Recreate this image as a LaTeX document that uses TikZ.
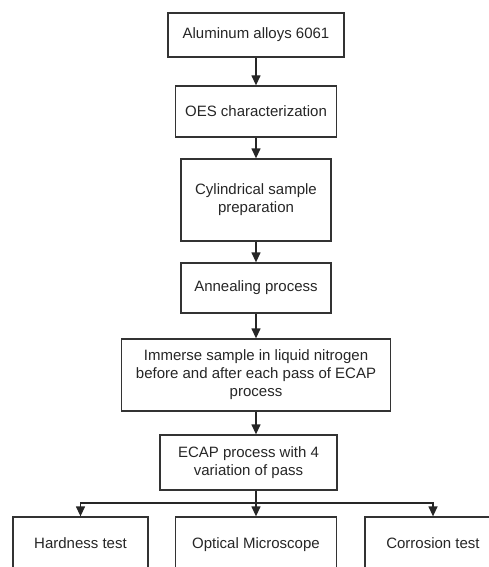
\documentclass[tikz,border=0pt]{standalone}
\usepackage{fontspec}
\setmainfont{Liberation Sans}
\usetikzlibrary{arrows.meta}
\begin{document}
\begin{tikzpicture}[
            x=1pt, y=-1pt,
            stepbox/.style={rectangle, draw=black!80, line width=1.3pt, align=center, inner sep=0pt,
              text=black!85, font=\fontsize{15}{18}\selectfont},
            flow/.style={draw=black!85, line width=1.3pt, -{Triangle[length=10pt,width=9pt]}}
          ]
          \clip (0,0) rectangle (489,567);
          \node[stepbox, minimum width=176pt, minimum height=44pt] (alloy) at (256,35) {Aluminum alloys 6061};
          \node[stepbox, minimum width=161pt, minimum height=51pt] (oes) at (256,111.5) {OES characterization};
          \node[stepbox, minimum width=150pt, minimum height=82pt] (cyl) at (256,200) {Cylindrical sample\\preparation};
          \node[stepbox, minimum width=150pt, minimum height=50pt] (anneal) at (256,288) {Annealing process};
          \node[stepbox, minimum width=269pt, minimum height=72pt] (immerse) at (256,375) {Immerse sample in liquid nitrogen\\before and after each pass of ECAP\\process};
          \node[stepbox, minimum width=177pt, minimum height=55pt] (ecap) at (248.5,462.5) {ECAP process with 4\\variation of pass};
          \node[stepbox, minimum width=135pt, minimum height=56pt] (hard) at (80.5,545) {\strut Hardness test};
          \node[stepbox, minimum width=161pt, minimum height=56pt] (optic) at (256,545) {\strut Optical Microscope};
          \node[stepbox, minimum width=136pt, minimum height=56pt] (corr) at (433,545) {\strut Corrosion test};
          \coordinate (split) at (256,503);
          \draw[flow] (alloy) -- (oes);
          \draw[flow] (oes) -- (cyl);
          \draw[flow] (cyl) -- (anneal);
          \draw[flow] (anneal) -- (immerse);
          \draw[flow] (immerse.south) -- (immerse.south |- ecap.north);
          \draw[draw=black!85, line width=1.3pt] (ecap.south -| split) -- (split);
          \draw[flow] (split) -- (optic);
          \draw[flow] (split) -| (hard);
          \draw[flow] (split) -| (corr);
        \end{tikzpicture}
\end{document}
